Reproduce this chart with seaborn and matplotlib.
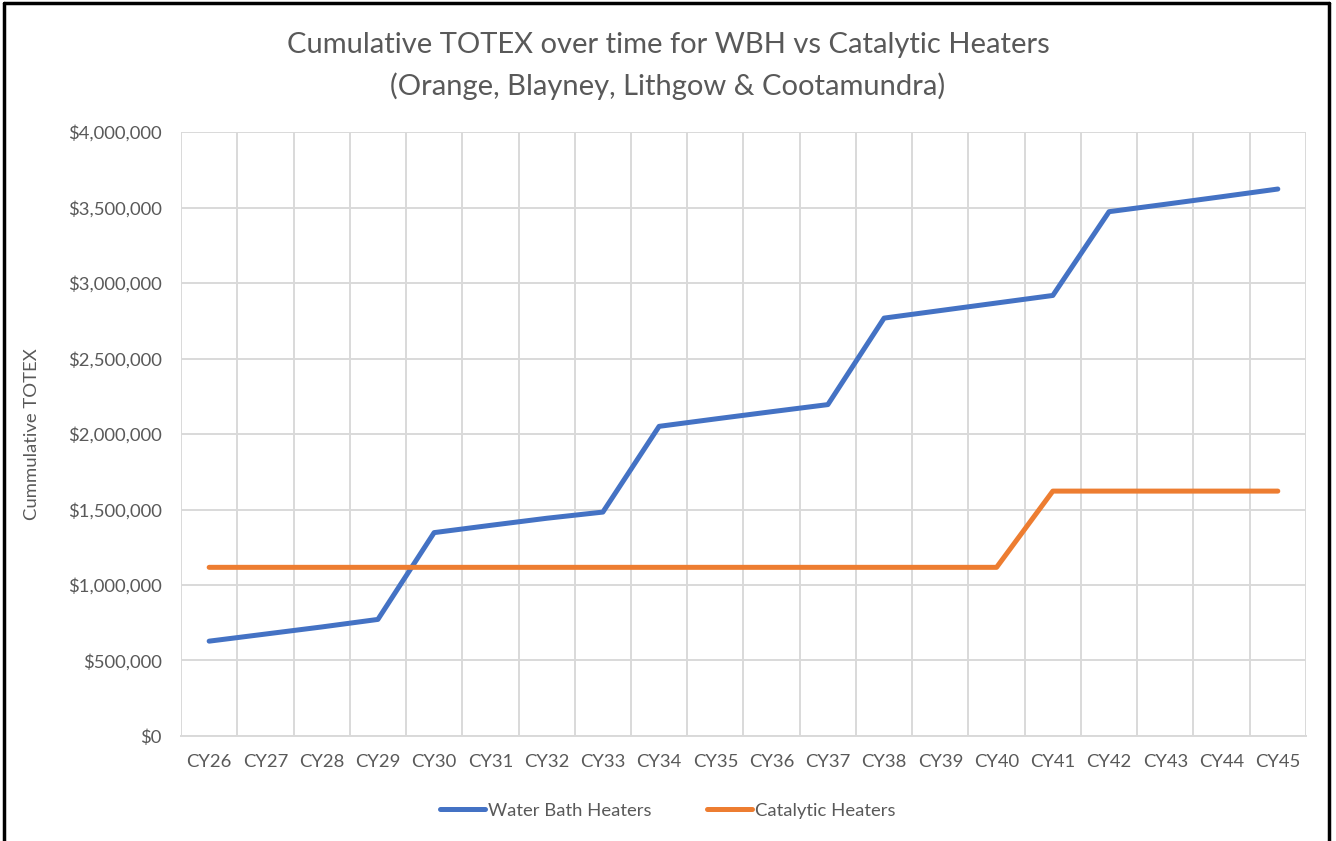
import pandas as pd
import matplotlib.pyplot as plt
import matplotlib.ticker as mticker
from matplotlib.lines import Line2D
import seaborn as sns

# Data
years = ['CY26', 'CY27', 'CY28', 'CY29', 'CY30', 'CY31', 'CY32', 'CY33', 'CY34', 'CY35',
         'CY36', 'CY37', 'CY38', 'CY39', 'CY40', 'CY41', 'CY42', 'CY43', 'CY44', 'CY45']
wbh = [628000, 675000, 722000, 772000, 1347000, 1395000, 1442000, 1483000, 2051000, 2100000,
       2148000, 2195000, 2768000, 2818000, 2868000, 2918000, 3473000, 3522000, 3572000, 3623000]
catalytic = [1117000, 1117000, 1117000, 1117000, 1117000, 1117000, 1117000, 1117000, 1117000, 1117000,
             1117000, 1117000, 1117000, 1117000, 1117000, 1622000, 1622000, 1622000, 1622000, 1622000]
series_names = ['Water Bath Heaters', 'Catalytic Heaters']
colors = ['#4472C4', '#ED7D31']

df = pd.DataFrame({
    'year': years * 2,
    'totex': wbh + catalytic,
    'series': [series_names[0]] * len(years) + [series_names[1]] * len(years),
})

sns.set_theme(style='white')
plt.rcParams['font.family'] = ['Lato', 'DejaVu Sans']
grey = '#595959'
grid = '#d9d9d9'
fs = 13.3

fig = plt.figure(figsize=(13.36, 8.41), dpi=100)
ax = fig.add_axes([0.1355, 0.1249, 0.842, 0.718])

sns.lineplot(data=df, x='year', y='totex', hue='series', palette=colors,
             linewidth=3.6, sort=False, ax=ax, legend=False)

ax.set_xlim(-0.5, len(years) - 0.5)
ax.set_ylim(0, 4000000)
ax.yaxis.set_major_locator(mticker.MultipleLocator(500000))
ax.yaxis.set_major_formatter(mticker.FuncFormatter(lambda v, p: f'${v:,.0f}'))
ax.xaxis.set_minor_locator(mticker.FixedLocator([i + 0.5 for i in range(-1, len(years))]))
ax.grid(False)
ax.grid(True, which='major', axis='y', color=grid, linewidth=1.4)
ax.grid(True, which='minor', axis='x', color=grid, linewidth=1.4)
for s in ['top', 'right', 'left']:
    ax.spines[s].set_visible(False)
ax.spines['bottom'].set_color(grid)
ax.spines['bottom'].set_linewidth(1.4)
ax.tick_params(axis='both', which='both', length=0, colors=grey, labelsize=fs)
ax.tick_params(axis='y', pad=14)
ax.tick_params(axis='x', pad=13)
ax.set_xlabel('')
ax.set_ylabel('Cummulative TOTEX', color=grey, fontsize=fs, labelpad=20)

fig.text(0.5, 0.946, 'Cumulative TOTEX over time for WBH vs Catalytic Heaters',
         ha='center', va='center', fontsize=21, color=grey)
fig.text(0.5, 0.898, '(Orange, Blayney, Lithgow & Cootamundra)',
         ha='center', va='center', fontsize=21, color=grey)

handles = [Line2D([0], [0], color=c, linewidth=3.6) for c in colors]
fig.legend(handles, series_names, loc='center', bbox_to_anchor=(0.5, 0.036), ncol=2,
           frameon=False, fontsize=fs, labelcolor=grey, handlelength=2.4,
           handletextpad=0.2, columnspacing=3.0)

# black frame around the picture
fig.add_artist(Line2D([0.003, 0.003], [0, 0.996], color='black', linewidth=2.5, transform=fig.transFigure))
fig.add_artist(Line2D([0.003, 0.995], [0.996, 0.996], color='black', linewidth=2.5, transform=fig.transFigure))
fig.add_artist(Line2D([0.995, 0.995], [0, 0.996], color='black', linewidth=2.5, transform=fig.transFigure))

fig.savefig('out.png', dpi=100)
